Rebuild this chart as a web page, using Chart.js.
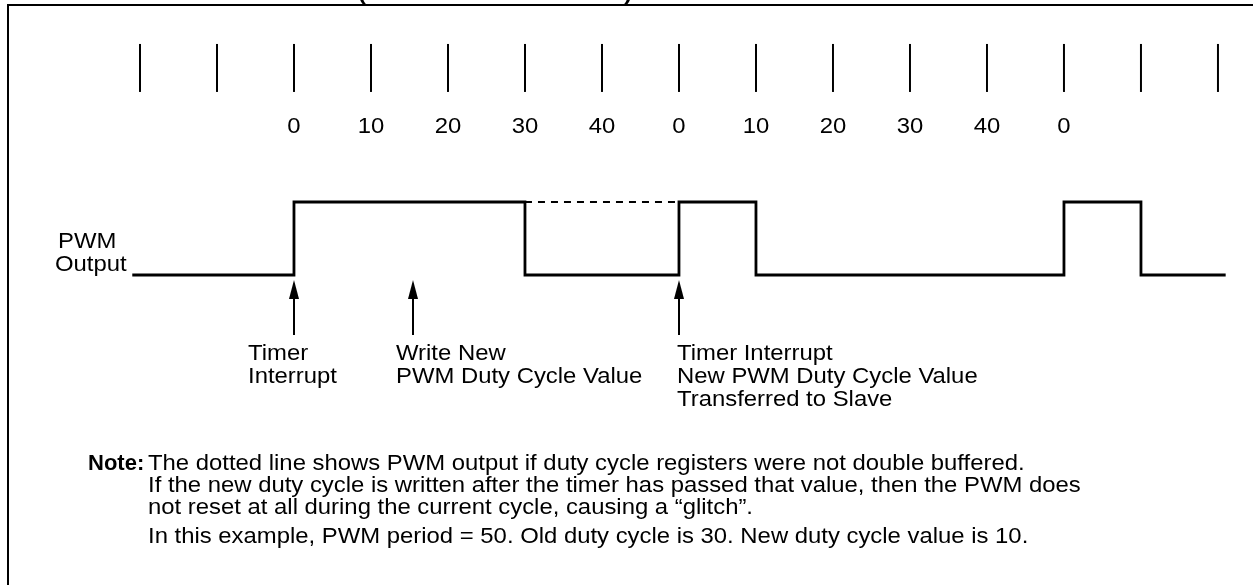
<!DOCTYPE html>
<html>
<head>
<meta charset="utf-8">
<script src="https://cdn.jsdelivr.net/npm/chart.js@4.4.1/dist/chart.umd.min.js"></script>
<style>
  html, body { margin: 0; padding: 0; background: #fff; }
  canvas { display: block; }
</style>
</head>
<body>
<canvas id="chart" width="1253" height="585"></canvas>
<script>
// Timer count axis
const tickCounts = [-20, -10, 0, 10, 20, 30, 40, 50, 60, 70, 80, 90, 100, 110, 120];
const tickLabels = ['', '', '0', '10', '20', '30', '40', '0', '10', '20', '30', '40', '0', '', ''];

// PWM output: count where the level changes, and the new level (0 = low, 1 = high)
const pwmTimes = [-21, 0, 30, 50, 60, 100, 110, 121];
const pwmLevels = [0, 1, 0, 1, 0, 1, 0, 0];

// Output without double buffering (dotted)
const glitchTimes = [30, 50];
const glitchLevels = [1, 1];

// Events marked with arrows
const eventTimes = [0, 15.5, 50];
const eventLabels = [
    ['Timer', 'Interrupt'],
    ['Write New', 'PWM Duty Cycle Value'],
    ['Timer Interrupt', 'New PWM Duty Cycle Value', 'Transferred to Slave']
];
const eventLabelOffsets = [-46, -17, -2];

const title = '(EDGE-ALIGNED MODE)';
const signalName = ['PWM', 'Output'];
const noteHead = 'Note:';
const noteLines = [
    'The dotted line shows PWM output if duty cycle registers were not double buffered.',
    'If the new duty cycle is written after the timer has passed that value, then the PWM does',
    'not reset at all during the current cycle, causing a \u201Cglitch\u201D.',
    'In this example, PWM period = 50. Old duty cycle is 30. New duty cycle value is 10.'
];

// Layout
const FONT = '"Liberation Sans", Arial, Helvetica, sans-serif';
const BODY = '22px ' + FONT;
const STRETCH = 1.085;     // the original type sets a little wider than Arial
const TICK_ROW = 2.836;    // level units, where timer tick marks sit
const X_MIN = -38.18, X_MAX = 124.55;
const Y_MIN = -4.247, Y_MAX = 3.767;

function text(ctx, str, x, y, font, sx) {
    ctx.font = font;
    ctx.save();
    ctx.translate(x, y);
    ctx.scale(sx || STRETCH, 1);
    ctx.fillText(str, 0, 0);
    ctx.restore();
}

function fitText(ctx, str, x, y, font, width) {
    ctx.font = font;
    text(ctx, str, x, y, font, width / ctx.measureText(str).width);
}

const decorations = {
    id: 'decorations',
    afterDatasetsDraw(chart) {
        const ctx = chart.ctx;
        const xs = chart.scales.x;
        const ys = chart.scales.y;
        ctx.save();
        ctx.fillStyle = '#000';
        ctx.strokeStyle = '#000';

        // frame
        ctx.lineWidth = 2;
        ctx.strokeRect(8, 5, 1400, 800);

        // title (cut off at the top edge)
        ctx.textBaseline = 'alphabetic';
        ctx.textAlign = 'center';
        fitText(ctx, title, 495, 0, 'bold 21px ' + FONT, 274);

        // tick labels
        tickCounts.forEach((c, i) => {
            if (tickLabels[i]) text(ctx, tickLabels[i], xs.getPixelForValue(c), 133, BODY);
        });

        // signal name
        ctx.textAlign = 'left';
        text(ctx, signalName[0], 58, 248, BODY);
        text(ctx, signalName[1], 55, 271, BODY);

        // arrows and their labels
        const tipY = ys.getPixelForValue(0) + 5;
        eventTimes.forEach((t, i) => {
            const x = Math.round(xs.getPixelForValue(t));
            ctx.lineWidth = 2;
            ctx.beginPath();
            ctx.moveTo(x, tipY + 14);
            ctx.lineTo(x, tipY + 55);
            ctx.stroke();
            ctx.beginPath();
            ctx.moveTo(x, tipY);
            ctx.lineTo(x - 5, tipY + 19);
            ctx.lineTo(x + 5, tipY + 19);
            ctx.closePath();
            ctx.fill();
            eventLabels[i].forEach((line, j) => {
                text(ctx, line, x + eventLabelOffsets[i], 360 + j * 23, BODY);
            });
        });

        // note
        text(ctx, noteHead, 88, 470, 'bold 22px ' + FONT, 1);
        const noteY = [470, 492, 514, 543];
        noteLines.forEach((line, i) => text(ctx, line, 148, noteY[i], BODY));
        ctx.restore();
    }
};

new Chart(document.getElementById('chart'), {
    type: 'scatter',
    data: {
        datasets: [
            {
                // timer tick marks
                data: tickCounts.map(c => ({ x: c, y: TICK_ROW })),
                pointStyle: 'line',
                rotation: 90,
                radius: 24,
                borderWidth: 2,
                borderColor: '#000',
                showLine: false
            },
            {
                data: pwmTimes.map((t, i) => ({ x: t, y: pwmLevels[i] })),
                showLine: true,
                stepped: 'before',
                borderColor: '#000',
                borderWidth: 2.8,
                pointRadius: 0
            },
            {
                data: glitchTimes.map((t, i) => ({ x: t, y: glitchLevels[i] })),
                showLine: true,
                borderColor: '#000',
                borderWidth: 2,
                borderDash: [7, 6],
                pointRadius: 0
            }
        ]
    },
    options: {
        responsive: false,
        animation: false,
        events: [],
        layout: { padding: 0, autoPadding: false },
        plugins: { legend: { display: false }, tooltip: { enabled: false } },
        scales: {
            x: { type: 'linear', min: X_MIN, max: X_MAX, display: false },
            y: { type: 'linear', min: Y_MIN, max: Y_MAX, display: false }
        }
    },
    plugins: [decorations]
});
</script>
</body>
</html>
